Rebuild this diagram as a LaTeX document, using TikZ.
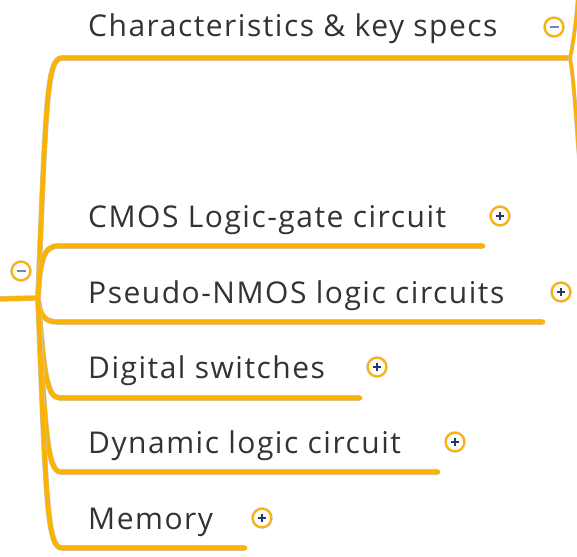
\documentclass[tikz,border=0pt]{standalone}
\usepackage{fontspec}
\setmainfont{Open Sans}
\newfontfamily\topicfont[LetterSpace=5]{Open Sans}
\definecolor{branchorange}{RGB}{252,178,0}
\definecolor{labelgray}{RGB}{51,51,51}
\definecolor{signnavy}{RGB}{40,55,100}
\definecolor{signsoft}{RGB}{120,132,180}
\begin{document}
\begin{tikzpicture}[x=1pt,y=-1pt,
  edge/.style={line width=4.6pt,branchorange,line cap=round,line join=round,
    preaction={draw=black!22,line width=5.6pt}},
  thinedge/.style={line width=3.2pt,branchorange,line cap=round,
    preaction={draw=black!22,line width=4.0pt}},
  label/.style={anchor=base west,inner sep=0pt,text=labelgray,
    font=\topicfont\fontsize{30}{34}\selectfont},
  toggle/.style={circle,minimum size=18.5pt,inner sep=0pt,fill=white,
    draw=branchorange,line width=2pt,
    preaction={draw=black!18,line width=3.2pt}},
  expand/.style={toggle,path picture={
    \draw[signnavy,line width=1.6pt]
      ([xshift=-4pt]path picture bounding box.center) --
      ([xshift=4pt]path picture bounding box.center)
      ([yshift=-4pt]path picture bounding box.center) --
      ([yshift=4pt]path picture bounding box.center);}},
  collapse/.style={toggle,path picture={
    \draw[signsoft,line width=1.6pt]
      ([xshift=-4.5pt]path picture bounding box.center) --
      ([xshift=4.5pt]path picture bounding box.center);}}]
\useasboundingbox[fill=white] (0,0) rectangle (577,556);

% root stub and branching point
\coordinate (stub) at (-5,299);
\coordinate (root) at (38,298);

% topic labels
\node[label] (t1) at (88,37)  {Characteristics \& key specs};
\node[label] (t2) at (88,227) {CMOS Logic-gate circuit};
\node[label] (t3) at (88,303) {Pseudo-NMOS logic circuits};
\node[label] (t4) at (88,378) {Digital switches};
\node[label] (t5) at (88,453) {Dynamic logic circuit};
\node[label] (t6) at (88,529) {Memory};

% underline end points
\coordinate (e1) at (570,58);
\coordinate (e2) at (483,246);
\coordinate (e3) at (543,322);
\coordinate (e4) at (360,398);
\coordinate (e5) at (438,472);
\coordinate (e6) at (245,548);
\coordinate (up1) at (578,-3);
\coordinate (dn1) at (579,158);

% connectors
\draw[edge] (stub) -- (root);
\draw[edge] (root) .. controls (46,100) and (47,58) .. (62,58) -- (e1);
\draw[edge] (root) .. controls (40,262) and (43,246) .. (58,246) -- (e2);
\draw[edge] (root) .. controls (40,314) and (43,322) .. (58,322) -- (e3);
\draw[edge] (root) .. controls (44,370) and (46,398) .. (60,398) -- (e4);
\draw[edge] (root) .. controls (45,430) and (47,472) .. (61,472) -- (e5);
\draw[edge] (root) .. controls (46,500) and (47,548) .. (62,548) -- (e6);
\draw[thinedge] (e1) .. controls (574,40) and (576,20) .. (up1);
\draw[thinedge] (e1) .. controls (574,80) and (576,120) .. (dn1);

% collapse / expand toggles
\node[collapse] (c0) at (21,271)  {};
\node[collapse] (c1) at (554,27)  {};
\node[expand]   (c2) at (500,216) {};
\node[expand]   (c3) at (561,292) {};
\node[expand]   (c4) at (377,367) {};
\node[expand]   (c5) at (455,442) {};
\node[expand]   (c6) at (262,518) {};
\end{tikzpicture}
\end{document}
